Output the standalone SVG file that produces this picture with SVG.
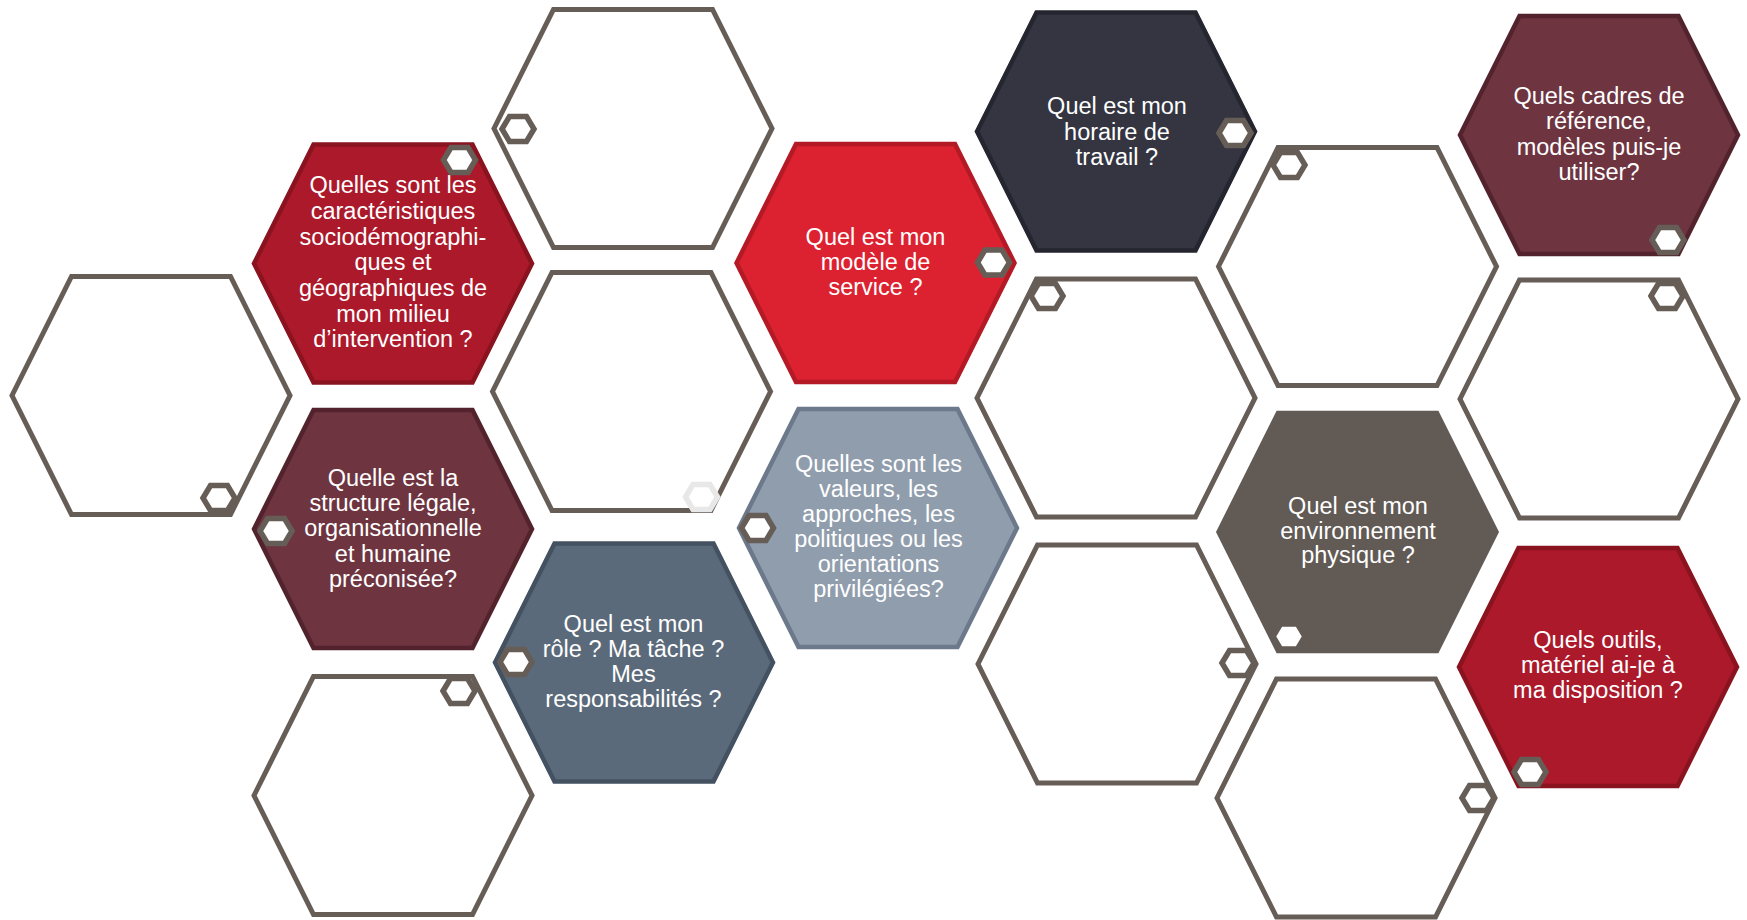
<svg xmlns="http://www.w3.org/2000/svg" xmlns:xlink="http://www.w3.org/1999/xlink" width="1747" height="920" viewBox="0 0 1747 920">
<style>
.empty{fill:#ffffff;stroke:#665d57;stroke-width:5;stroke-linejoin:miter}
.red{fill:#ab192b;stroke:#8a1320;stroke-width:4.5}
.bright{fill:#dc2230;stroke:#b31a26;stroke-width:4.5}
.wine{fill:#6e3541;stroke:#52232d;stroke-width:4.5}
.slate{fill:#5b6a7a;stroke:#435160;stroke-width:4.5}
.steel{fill:#909dad;stroke:#6c798a;stroke-width:4.5}
.navy{fill:#343541;stroke:#24252f;stroke-width:4.5}
.taupe{fill:#625a55;stroke:#625a55;stroke-width:4.5}
.dot{fill:#ffffff;stroke:#665d57;stroke-width:5.5}
.dot-ghost{fill:none;stroke:#e8e8e8;stroke-width:5.5}
.dot-in{fill:#ffffff;stroke:#625a55;stroke-width:5.5}
.t{font-family:"Liberation Sans",Arial,sans-serif;font-size:23.5px;fill:#ffffff;text-anchor:middle}
</style>
<defs>
<polygon id="hex" points="-139,0 -79.5,-119 79.5,-119 139,0 79.5,119 -79.5,119"/>
<polygon id="shex" points="-16,0 -8.5,-12.5 8.5,-12.5 16,0 8.5,12.5 -8.5,12.5"/>
</defs>
<rect width="1747" height="920" fill="#ffffff"/>
<g id="connectors"/>

<g id="hexA"><use xlink:href="#hex" href="#hex" x="151" y="395.5" class="empty"/></g>
<g id="hexC"><use xlink:href="#hex" href="#hex" x="633" y="128.5" class="empty"/></g>
<g id="hexD"><use xlink:href="#hex" href="#hex" x="631.5" y="391.5" class="empty"/></g>
<g id="hexF"><use xlink:href="#hex" href="#hex" x="393" y="795.5" class="empty"/></g>
<g id="hexK"><use xlink:href="#hex" href="#hex" x="1116" y="398" class="empty"/></g>
<g id="hexL"><use xlink:href="#hex" href="#hex" x="1117" y="664" class="empty"/></g>
<g id="hexM"><use xlink:href="#hex" href="#hex" x="1357.5" y="266.5" class="empty"/></g>
<g id="hexO"><use xlink:href="#hex" href="#hex" x="1356" y="798" class="empty"/></g>
<g id="hexQ"><use xlink:href="#hex" href="#hex" x="1599" y="399" class="empty"/></g>

<g id="hexB">
<use xlink:href="#hex" href="#hex" x="393" y="263.5" class="red"/>
<text class="t" x="393"><tspan x="393" y="193">Quelles sont les</tspan><tspan x="393" y="219">caractéristiques</tspan><tspan x="393" y="244.5">sociodémographi-</tspan><tspan x="393" y="270">ques et</tspan><tspan x="393" y="296">géographiques de</tspan><tspan x="393" y="321.5">mon milieu</tspan><tspan x="393" y="347">d’intervention ?</tspan></text>
</g>

<g id="hexE">
<use xlink:href="#hex" href="#hex" x="393" y="529" class="wine"/>
<text class="t"><tspan x="393" y="486">Quelle est la</tspan><tspan x="393" y="511">structure légale,</tspan><tspan x="393" y="536">organisationnelle</tspan><tspan x="393" y="561.5">et humaine</tspan><tspan x="393" y="586.5">préconisée?</tspan></text>
</g>

<g id="hexG">
<use xlink:href="#hex" href="#hex" x="634" y="662.5" class="slate"/>
<text class="t"><tspan x="633.5" y="631.5">Quel est mon</tspan><tspan x="633.5" y="656.5">rôle ? Ma tâche ?</tspan><tspan x="633.5" y="682">Mes</tspan><tspan x="633.5" y="707">responsabilités ?</tspan></text>
</g>

<g id="hexH">
<use xlink:href="#hex" href="#hex" x="875.5" y="263" class="bright"/>
<text class="t"><tspan x="875.5" y="244.5">Quel est mon</tspan><tspan x="875.5" y="269.5">modèle de</tspan><tspan x="875.5" y="295">service ?</tspan></text>
</g>

<g id="hexI">
<use xlink:href="#hex" href="#hex" x="878" y="528" class="steel"/>
<text class="t"><tspan x="878.5" y="471.5">Quelles sont les</tspan><tspan x="878.5" y="496.5">valeurs, les</tspan><tspan x="878.5" y="521.5">approches, les</tspan><tspan x="878.5" y="547">politiques ou les</tspan><tspan x="878.5" y="572">orientations</tspan><tspan x="878.5" y="597">privilégiées?</tspan></text>
</g>

<g id="hexJ">
<use xlink:href="#hex" href="#hex" x="1116" y="131.5" class="navy"/>
<text class="t"><tspan x="1117" y="114">Quel est mon</tspan><tspan x="1117" y="139.5">horaire de</tspan><tspan x="1117" y="164.5">travail ?</tspan></text>
</g>

<g id="hexN">
<use xlink:href="#hex" href="#hex" x="1357.5" y="532" class="taupe"/>
<text class="t"><tspan x="1358" y="514">Quel est mon</tspan><tspan x="1358" y="538.5">environnement</tspan><tspan x="1358" y="563">physique ?</tspan></text>
</g>

<g id="hexP">
<use xlink:href="#hex" href="#hex" x="1599" y="135" class="wine"/>
<text class="t"><tspan x="1599" y="103.5">Quels cadres de</tspan><tspan x="1599" y="129">référence,</tspan><tspan x="1599" y="154.5">modèles puis-je</tspan><tspan x="1599" y="180">utiliser?</tspan></text>
</g>

<g id="hexR">
<use xlink:href="#hex" href="#hex" x="1598" y="667" class="red"/>
<text class="t"><tspan x="1598" y="648">Quels outils,</tspan><tspan x="1598" y="673">matériel ai-je à</tspan><tspan x="1598" y="698">ma disposition ?</tspan></text>
</g>

<g id="small-hexes">
<use xlink:href="#shex" href="#shex" x="518" y="129" class="dot"/>
<use xlink:href="#shex" href="#shex" x="459.5" y="160" class="dot"/>
<use xlink:href="#shex" href="#shex" x="993.5" y="262.5" class="dot"/>
<use xlink:href="#shex" href="#shex" x="1047" y="296" class="dot"/>
<use xlink:href="#shex" href="#shex" x="1235" y="133" class="dot"/>
<use xlink:href="#shex" href="#shex" x="1289" y="165" class="dot"/>
<use xlink:href="#shex" href="#shex" x="1668" y="240" class="dot"/>
<use xlink:href="#shex" href="#shex" x="1667" y="296" class="dot"/>
<use xlink:href="#shex" href="#shex" x="219" y="498" class="dot"/>
<use xlink:href="#shex" href="#shex" x="276" y="531" class="dot"/>
<use xlink:href="#shex" href="#shex" x="459" y="691" class="dot"/>
<use xlink:href="#shex" href="#shex" x="516" y="662" class="dot"/>
<use xlink:href="#shex" href="#shex" x="701.5" y="497" class="dot-ghost"/>
<use xlink:href="#shex" href="#shex" x="757.5" y="528" class="dot"/>
<use xlink:href="#shex" href="#shex" x="1289" y="636.5" class="dot-in"/>
<use xlink:href="#shex" href="#shex" x="1238" y="663" class="dot"/>
<use xlink:href="#shex" href="#shex" x="1478" y="798" class="dot"/>
<use xlink:href="#shex" href="#shex" x="1530" y="772" class="dot"/>
</g>
</svg>
